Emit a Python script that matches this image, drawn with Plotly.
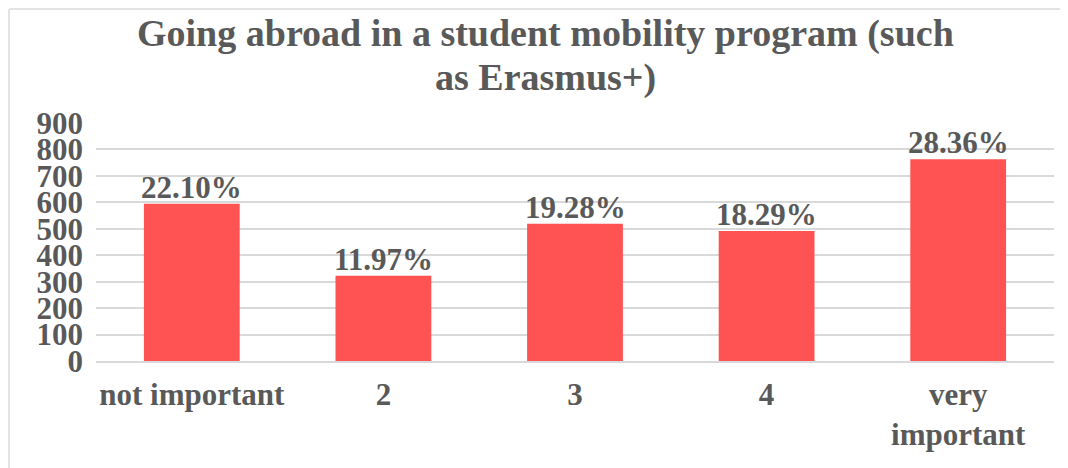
import plotly.graph_objects as go

categories = ["not important", "2", "3", "4", "very<br>important"]
counts = [595, 322, 519, 492, 763]
pct_labels = ["22.10%", "11.97%", "19.28%", "18.29%", "28.36%"]
y_ticks = [0, 100, 200, 300, 400, 500, 600, 700, 800, 900]
title_lines = ["Going abroad in a student mobility program (such", "as Erasmus+)"]

W, H = 1068, 468
OFF = 8  # page offset of the figure inside the window
L, T = 88, 115
PW, PH = 958, 238
R = W - L - PW
B = H - T - PH


def px_x(sx):
    return (sx - OFF - L) / PW


def px_y(sy):
    return (T + PH - (sy - OFF)) / PH


FONT = "Liberation Serif, Times New Roman, serif"
GREY = "#595959"
LINE = "#D9D9D9"

fig = go.Figure(go.Bar(
    x=categories, y=counts,
    marker=dict(color="#FF5252", line=dict(width=0)),
    hoverinfo="x+y",
))

fig.update_layout(
    width=W, height=H,
    margin=dict(l=L, r=R, t=T, b=B),
    paper_bgcolor="white", plot_bgcolor="white",
    bargap=0.5,
    showlegend=False,
    font=dict(family=FONT, color=GREY),
)

fig.update_yaxes(
    range=[0, 900], tickvals=y_ticks,
    ticktext=[f"<b>{v}</b>" for v in y_ticks],
    showgrid=True, gridcolor=LINE, gridwidth=1.5,
    zeroline=False, showline=False, ticks="",
    tickfont=dict(family=FONT, size=31, color=GREY),
    ticklabelstandoff=12,
)
fig.update_xaxes(
    type="category",
    tickvals=categories,
    ticktext=[f"<b>{c}</b>" for c in categories],
    showline=True, linecolor=LINE, linewidth=1.5,
    ticks="", showgrid=False,
    tickfont=dict(family=FONT, size=31, color=GREY),
    ticklabelstandoff=5,
)

# data labels (x given as category index)
for i, (v, t) in enumerate(zip(counts, pct_labels)):
    fig.add_annotation(x=i, y=v, xref="x", yref="y", text=f"<b>{t}</b>",
                       showarrow=False, yanchor="bottom", yshift=-3,
                       font=dict(family=FONT, size=31, color=GREY))

# title (two lines, tight spacing as in the reference)
for line, sy in zip(title_lines, [33, 77]):
    fig.add_annotation(x=px_x(545), y=px_y(sy), xref="paper", yref="paper",
                       text=f"<b>{line}</b>", showarrow=False,
                       xanchor="center", yanchor="middle",
                       font=dict(family=FONT, size=38, color=GREY))

# outer chart border (top and left visible)
fig.add_shape(type="line", xref="paper", yref="paper",
              x0=px_x(9), x1=px_x(W + OFF), y0=px_y(9), y1=px_y(9),
              line=dict(color="#E3E3E3", width=2))
fig.add_shape(type="line", xref="paper", yref="paper",
              x0=px_x(9), x1=px_x(9), y0=px_y(9), y1=px_y(H + OFF),
              line=dict(color="#E3E3E3", width=2))

fig.write_html("out.html")
